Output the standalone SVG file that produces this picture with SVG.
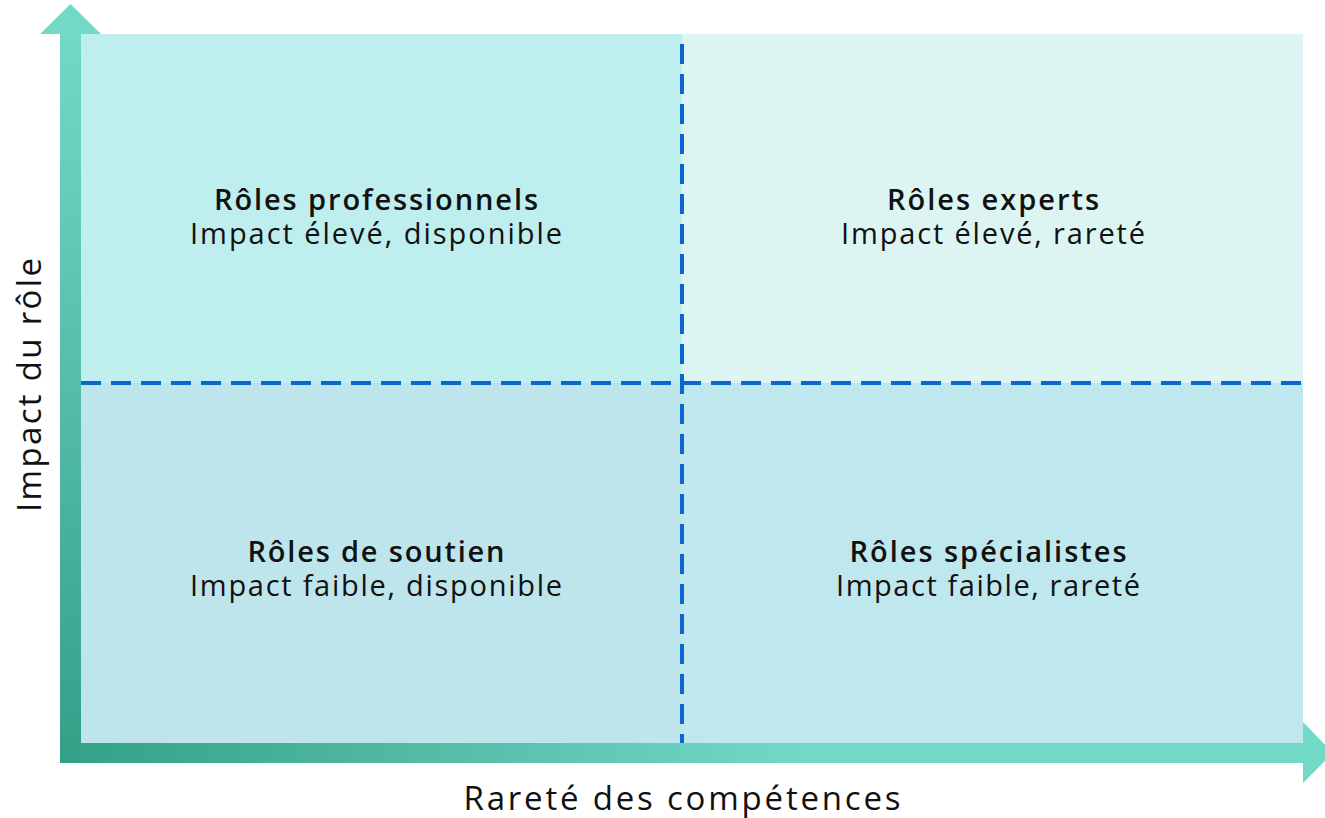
<svg xmlns="http://www.w3.org/2000/svg" width="1325" height="818" viewBox="0 0 1325 818">
<defs>
<style>
.t{font-family:"Open Sans","Lato","Liberation Sans",sans-serif;fill:#111;text-anchor:middle;}
.b{font-weight:600;font-size:29px;}
.r{font-weight:400;font-size:29px;}
.ax{font-family:"Open Sans","Lato","Liberation Sans",sans-serif;fill:#111;font-size:33px;font-weight:500;text-anchor:middle;}
.dash{stroke:#0B66D2;stroke-width:4;stroke-dasharray:20 10;fill:none;}
</style>
<linearGradient id="gv" x1="0" y1="1" x2="0" y2="0">
<stop offset="0" stop-color="#33A088"/>
<stop offset="1" stop-color="#73D9C7"/>
</linearGradient>
<linearGradient id="gh" x1="0" y1="0" x2="1" y2="0">
<stop offset="0" stop-color="#33A088"/>
<stop offset="0.6" stop-color="#73D9C7"/>
<stop offset="1" stop-color="#73D9C7"/>
</linearGradient>
</defs>
<rect width="1325" height="818" fill="#fff"/>
<g id="quadrants">
<rect id="q-tl" x="81" y="34" width="601" height="349" fill="#BEEEEE"/>
<rect id="q-tr" x="682" y="34" width="621" height="349" fill="#DDF5F2"/>
<rect id="q-bl" x="81" y="383" width="601" height="360" fill="#BFE5EC"/>
<rect id="q-br" x="682" y="383" width="621" height="360" fill="#BFE8EE"/>
</g>
<g id="axes">
<rect x="60" y="33" width="21" height="730" fill="url(#gv)"/>
<polygon points="40,34 70.5,4 101,34" fill="#73D9C7"/>
<rect x="60" y="743" width="1243" height="20" fill="url(#gh)"/>
<polygon points="1303,722 1333,753 1303,783" fill="#73D9C7"/>
</g>
<g id="connectors">
<line class="dash" x1="682" y1="44" x2="682" y2="743"/>
<line class="dash" x1="81" y1="383" x2="1303" y2="383"/>
</g>
<g id="node-pro">
<text class="t b" x="376" y="210" textLength="324" lengthAdjust="spacing">Rôles professionnels</text>
<text class="t r" x="376" y="244" textLength="372" lengthAdjust="spacing">Impact élevé, disponible</text>
</g>
<g id="node-exp">
<text class="t b" x="993" y="210" textLength="212" lengthAdjust="spacing">Rôles experts</text>
<text class="t r" x="993" y="244" textLength="304" lengthAdjust="spacing">Impact élevé, rareté</text>
</g>
<g id="node-sou">
<text class="t b" x="376" y="562" textLength="257" lengthAdjust="spacing">Rôles de soutien</text>
<text class="t r" x="376" y="596" textLength="372" lengthAdjust="spacing">Impact faible, disponible</text>
</g>
<g id="node-spe">
<text class="t b" x="988" y="562" textLength="277" lengthAdjust="spacing">Rôles spécialistes</text>
<text class="t r" x="988" y="596" textLength="304" lengthAdjust="spacing">Impact faible, rareté</text>
</g>
<g id="labels">
<text class="ax" x="682" y="810" textLength="437" lengthAdjust="spacing">Rareté des compétences</text>
<text class="ax" transform="translate(41,385) rotate(-90)" textLength="254" lengthAdjust="spacing">Impact du rôle</text>
</g>
</svg>
